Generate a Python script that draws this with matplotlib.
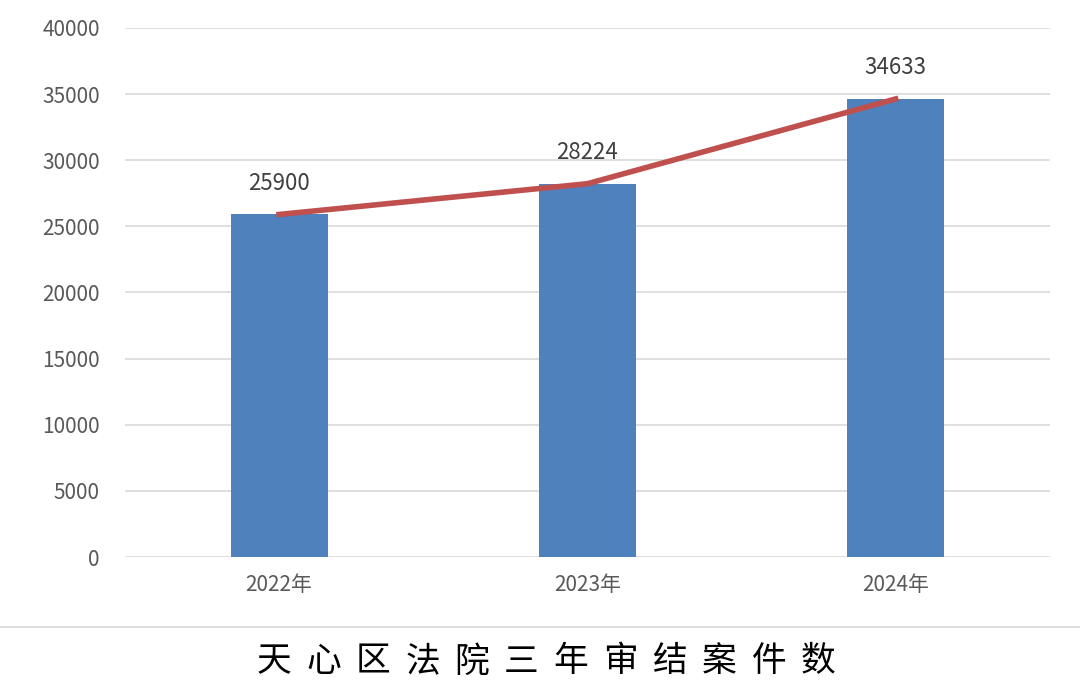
import matplotlib
matplotlib.use("Agg")
import matplotlib.pyplot as plt

plt.rcParams['font.family'] = ['Noto Sans CJK SC', 'DejaVu Sans']

years = ["2022年", "2023年", "2024年"]
cases = [25900, 28224, 34633]
title = "天心区法院三年审结案件数"

fig = plt.figure(figsize=(10.8, 6.99), dpi=100)
ax = fig.add_axes([0.1157, 0.2031, 0.8563, 0.7569])

x = list(range(len(years)))
ax.bar(x, cases, width=0.315, color="#4F81BD", zorder=2)
ax.plot(x, cases, color="#C0504D", linewidth=4, zorder=3)
for xi, v in zip(x, cases):
    ax.text(xi, v + 1500, str(v), ha="center", va="bottom",
            fontsize=16, color="#404040")

ax.set_xlim(-0.5, 2.5)
ax.set_ylim(0, 40000)
ax.set_yticks(range(0, 40001, 5000))
ax.set_xticks(x)
ax.set_xticklabels(years)
ax.yaxis.grid(True, color="#D9D9D9", linewidth=1.2)
ax.set_axisbelow(True)
for s in ax.spines.values():
    s.set_visible(False)
ax.tick_params(length=0, labelsize=15, labelcolor="#595959")
ax.tick_params(axis="y", pad=18)
ax.tick_params(axis="x", pad=12)

fig.add_artist(plt.Line2D([0, 1], [1 - 627 / 699, 1 - 627 / 699],
                          color="#D9D9D9", linewidth=1.2))
n = len(title)
x0, pitch = 274 / 1080, 49.5 / 1080
for i, ch in enumerate(title):
    fig.text(x0 + i * pitch, 1 - 662 / 699, ch, ha="center", va="center",
             fontsize=25, color="black")

fig.savefig("out.png", dpi=100, facecolor="white")
